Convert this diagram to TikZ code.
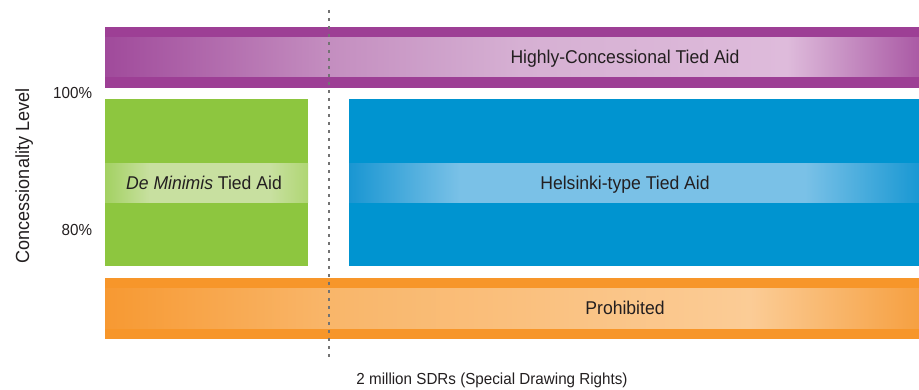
\documentclass[tikz,border=0pt]{standalone}
\usepackage{fontspec}
\setmainfont[FakeStretch=0.95]{Liberation Sans}
\usetikzlibrary{positioning}
\definecolor{txtdark}{RGB}{35,31,32}
\definecolor{dotgray}{RGB}{115,115,115}
\definecolor{purplebar}{RGB}{157,63,149}
\definecolor{purpleedge}{RGB}{160,74,155}
\definecolor{purplemid}{RGB}{196,142,192}
\definecolor{purplenear}{RGB}{214,176,211}
\definecolor{purplelight}{RGB}{222,187,219}
\definecolor{purpleend}{RGB}{170,90,165}
\definecolor{greenbar}{RGB}{141,198,63}
\definecolor{greenedge}{RGB}{163,209,98}
\definecolor{greenlight}{RGB}{200,224,160}
\definecolor{greenend}{RGB}{175,214,115}
\definecolor{bluebar}{RGB}{0,148,208}
\definecolor{blueedge}{RGB}{25,150,210}
\definecolor{bluelight}{RGB}{122,193,231}
\definecolor{blueend}{RGB}{25,152,211}
\definecolor{orangebar}{RGB}{247,150,42}
\definecolor{orangeedge}{RGB}{247,153,50}
\definecolor{orangemid}{RGB}{249,182,106}
\definecolor{orangelight}{RGB}{251,204,150}
\definecolor{orangeend}{RGB}{246,160,65}
\pgfdeclarehorizontalshading{purpleband}{100bp}{color(0bp)=(purpleedge); color(25bp)=(purpleedge); color(38.82bp)=(purplemid); color(50.49bp)=(purplenear); color(66.89bp)=(purplelight); color(75bp)=(purpleend); color(100bp)=(purpleend)}
\pgfdeclarehorizontalshading{greenband}{100bp}{color(0bp)=(greenedge); color(25bp)=(greenedge); color(36.08bp)=(greenlight); color(65.64bp)=(greenlight); color(75bp)=(greenend); color(100bp)=(greenend)}
\pgfdeclarehorizontalshading{blueband}{100bp}{color(0bp)=(blueedge); color(25bp)=(blueedge); color(34.74bp)=(bluelight); color(65bp)=(bluelight); color(75bp)=(blueend); color(100bp)=(blueend)}
\pgfdeclarehorizontalshading{orangeband}{100bp}{color(0bp)=(orangeedge); color(25bp)=(orangeedge); color(38.82bp)=(orangemid); color(64.62bp)=(orangelight); color(75bp)=(orangeend); color(100bp)=(orangeend)}
\tikzset{
  barlabel/.style={anchor=base,inner sep=0.75pt,text=txtdark,font=\fontsize{18.5}{21}\selectfont},
  axislabel/.style={inner sep=0.75pt,text=txtdark,font=\fontsize{16}{19}\selectfont},
}

\begin{document}
\begin{tikzpicture}[x=1pt,y=1pt,yscale=-1,xscale=1]
\useasboundingbox (0,0) rectangle (919,390);

%Shape: Bar, highly concessional
\fill [purplebar] (105,27) rectangle (919,88);
\shade [shading=purpleband] (105,38) rectangle (919,77);
%Shape: Box, de minimis
\fill [greenbar] (105,99) rectangle (308,266);
\shade [shading=greenband] (105,164) rectangle (308,203);
%Shape: Box, helsinki-type
\fill [bluebar] (349,99) rectangle (919,266);
\shade [shading=blueband] (349,164) rectangle (919,203);
%Shape: Bar, prohibited
\fill [orangebar] (105,278) rectangle (919,339);
\shade [shading=orangeband] (105,289) rectangle (919,328);

%Shape: Dotted threshold line
\coordinate (limtop) at (329,10);
\coordinate (limbot) at (329,357);
\draw [dotgray,line width=2.8pt,dash pattern=on 2.8pt off 5.2pt] (limtop) -- (limbot);

% Text Node
\node (high) [barlabel] at (625,64) {Highly-Concessional Tied Aid};
% Text Node
\node (demin) [barlabel] at (204,189.5) {\itshape De Minimis\upshape\ Tied Aid};
% Text Node
\node (hels) [barlabel] at (625,189.5) {Helsinki-type Tied Aid};
% Text Node
\node (prohib) [barlabel] at (625,315) {Prohibited};
% Text Node
\node (hundred) [axislabel,anchor=base east] at (93,99) {100\%};
% Text Node
\node (eighty) [axislabel,anchor=base east] at (93,236) {80\%};
% Text Node
\node (conc) [axislabel,anchor=base,rotate=90,font=\fontsize{19}{22}\selectfont] at (29,176) {Concessionality Level};
% Text Node
\node (sdr) [axislabel,anchor=base] at (492,384) {2 million SDRs (Special Drawing Rights)};

\end{tikzpicture}
\end{document}
